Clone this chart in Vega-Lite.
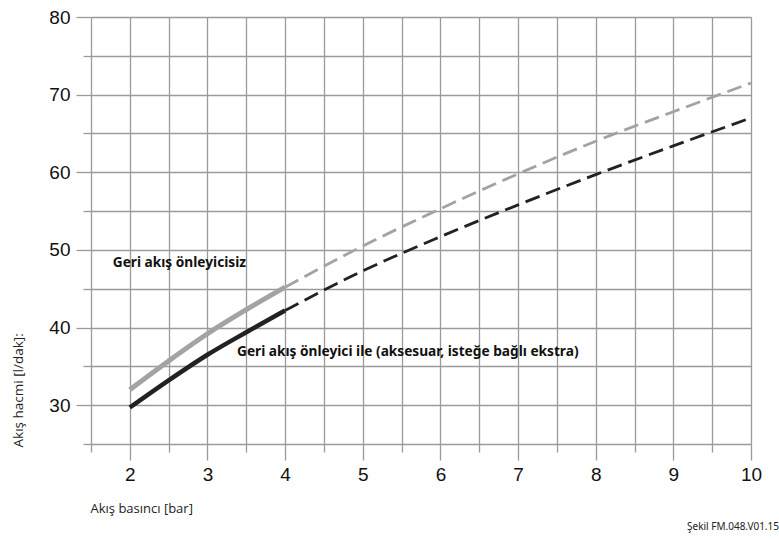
{
  "$schema": "https://vega.github.io/schema/vega-lite/v6.json",
  "width": 660,
  "height": 427,
  "autosize": {"type": "none"},
  "padding": {"left": 91, "top": 17, "right": 28, "bottom": 96},
  "background": "white",
  "title": {"text": "Şekil FM.048.V01.15", "orient": "bottom", "anchor": "end", "frame": "group", "dx": 28, "offset": 7, "font": "Noto Sans", "fontSize": 10, "fontWeight": "normal", "color": "#222"},
  "config": {"view": {"stroke": null}},
  "datasets": {
    "curves": [
      {"x": 2, "y": 32.0, "k": "g_solid"},
      {"x": 2.5, "y": 35.7, "k": "g_solid"},
      {"x": 3, "y": 39.2, "k": "g_solid"},
      {"x": 3.5, "y": 42.3, "k": "g_solid"},
      {"x": 4, "y": 45.2, "k": "g_solid"},
      {"x": 4, "y": 45.2, "k": "g_dash"},
      {"x": 5, "y": 50.5, "k": "g_dash"},
      {"x": 6, "y": 55.3, "k": "g_dash"},
      {"x": 7, "y": 59.8, "k": "g_dash"},
      {"x": 8, "y": 64.0, "k": "g_dash"},
      {"x": 9, "y": 67.8, "k": "g_dash"},
      {"x": 10, "y": 71.5, "k": "g_dash"},
      {"x": 2, "y": 29.7, "k": "b_solid"},
      {"x": 2.5, "y": 33.2, "k": "b_solid"},
      {"x": 3, "y": 36.5, "k": "b_solid"},
      {"x": 3.5, "y": 39.4, "k": "b_solid"},
      {"x": 4, "y": 42.2, "k": "b_solid"},
      {"x": 4, "y": 42.2, "k": "b_dash"},
      {"x": 5, "y": 47.3, "k": "b_dash"},
      {"x": 6, "y": 51.7, "k": "b_dash"},
      {"x": 7, "y": 55.8, "k": "b_dash"},
      {"x": 8, "y": 59.7, "k": "b_dash"},
      {"x": 9, "y": 63.4, "k": "b_dash"},
      {"x": 10, "y": 67.0, "k": "b_dash"}
    ],
    "labels": [
      {"x": 1.78, "y": 48.3, "t": "Geri akış önleyicisiz"},
      {"x": 3.38, "y": 36.8, "t": "Geri akış önleyici ile (aksesuar, isteğe bağlı ekstra)"}
    ]
  },
  "encoding": {
    "x": {
      "field": "x", "type": "quantitative",
      "scale": {"domain": [1.5, 10], "nice": false, "zero": false},
      "axis": {
        "title": "Akış basıncı [bar]",
        "titleX": -1, "titleY": 64, "titleAlign": "left", "titleBaseline": "middle",
        "titleFont": "Open Sans", "titleFontSize": 13, "titleFontWeight": "normal", "titleColor": "#222",
        "values": [1.5, 2, 2.5, 3, 3.5, 4, 4.5, 5, 5.5, 6, 6.5, 7, 7.5, 8, 8.5, 9, 9.5, 10],
        "labelExpr": "datum.value % 1 === 0 ? format(datum.value, 'd') : ''",
        "labelFont": "Liberation Sans", "labelFontSize": 19, "labelColor": "#111", "labelPadding": 5,
        "domain": false, "grid": true, "gridColor": "#9a9a9a", "gridWidth": 1.3, "gridOpacity": 1,
        "tickColor": "#9a9a9a", "tickWidth": 1.3, "tickSize": 16,
        "tickDash": {"condition": {"test": "datum.value % 1 === 0", "value": [16, 0]}, "value": [8, 100]},
        "labelFlush": false, "labelOverlap": false
      }
    },
    "y": {
      "field": "y", "type": "quantitative",
      "scale": {"domain": [25, 80], "nice": false, "zero": false},
      "axis": {
        "title": "Akış hacmi [l/dak]:",
        "titleX": -73, "titleY": 430, "titleAngle": -90, "titleAlign": "left", "titleBaseline": "middle",
        "titleFont": "Open Sans", "titleFontSize": 13.5, "titleFontWeight": "normal", "titleColor": "#222",
        "values": [25, 30, 35, 40, 45, 50, 55, 60, 65, 70, 75, 80],
        "labelExpr": "datum.value % 10 === 0 ? datum.label : ''",
        "labelFont": "Liberation Sans", "labelFontSize": 19, "labelColor": "#111", "labelPadding": 6,
        "domain": false, "grid": true, "gridColor": "#9a9a9a", "gridWidth": 1.3, "gridOpacity": 1,
        "tickColor": "#9a9a9a", "tickWidth": 1.3, "tickSize": 15,
        "tickDash": {"condition": {"test": "datum.value % 10 === 0", "value": [15, 0]}, "value": [8, 100]},
        "labelFlush": false, "labelOverlap": false
      }
    }
  },
  "layer": [
    {
      "data": {"name": "curves"},
      "transform": [{"filter": "datum.k === 'g_solid'"}],
      "mark": {"type": "line", "interpolate": "monotone", "strokeCap": "butt", "color": "#a3a3a3", "strokeWidth": 5}
    },
    {
      "data": {"name": "curves"},
      "transform": [{"filter": "datum.k === 'g_dash'"}],
      "mark": {"type": "line", "interpolate": "monotone", "strokeCap": "butt", "color": "#a3a3a3", "strokeWidth": 2.8, "strokeDash": [15, 7]}
    },
    {
      "data": {"name": "curves"},
      "transform": [{"filter": "datum.k === 'b_solid'"}],
      "mark": {"type": "line", "interpolate": "monotone", "strokeCap": "butt", "color": "#222222", "strokeWidth": 4.5}
    },
    {
      "data": {"name": "curves"},
      "transform": [{"filter": "datum.k === 'b_dash'"}],
      "mark": {"type": "line", "interpolate": "monotone", "strokeCap": "butt", "color": "#222222", "strokeWidth": 2.8, "strokeDash": [15, 7]}
    },
    {
      "data": {"name": "labels"},
      "mark": {"type": "text", "align": "left", "baseline": "middle", "font": "Noto Sans", "fontSize": 13.7, "fontWeight": "bold", "color": "#111"},
      "encoding": {
        "text": {"field": "t"}
      }
    }
  ]
}
